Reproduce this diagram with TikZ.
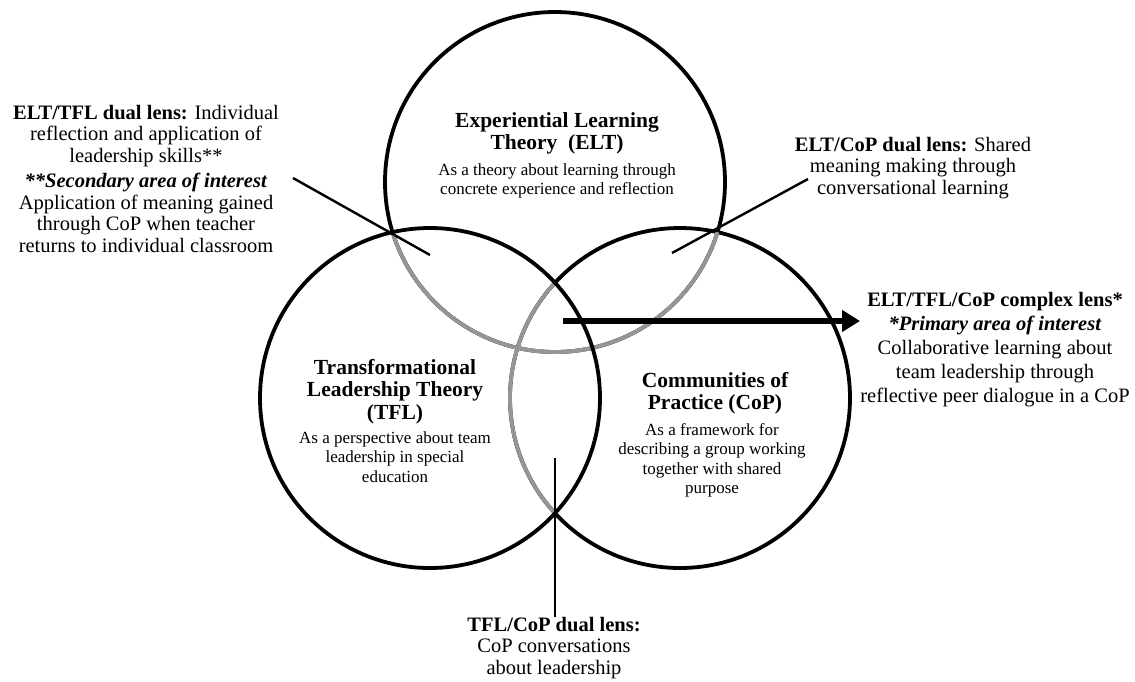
\documentclass[tikz,border=0pt]{standalone}
\usepackage{fontspec}
\setmainfont{Liberation Serif}
\usetikzlibrary{arrows.meta}
\definecolor{arcgray}{RGB}{150,150,150}
\begin{document}
\begin{tikzpicture}[x=1pt,y=-1pt,
  ring/.style={line width=3.8pt, draw=black},
  innerarc/.style={line width=3.8pt, draw=arcgray},
  pointer/.style={line width=2.4pt, draw=black},
  lenstext/.style={font=\fontsize{20.5}{21.5}\selectfont, align=center, inner sep=0pt, anchor=north},
  circhead/.style={font=\fontsize{21.5}{22.5}\selectfont\bfseries, align=center, inner sep=0pt, anchor=north},
  circdesc/.style={font=\fontsize{17}{19.5}\selectfont, align=center, inner sep=0pt, anchor=north},
]
\useasboundingbox (0,0) rectangle (1135,681);

% circle centres
\coordinate (cELT) at (555,182);
\coordinate (cTFL) at (430,398);
\coordinate (cCoP) at (680,398);

% outlines
\draw[ring] (cELT) circle[radius=170pt];
\draw[ring] (cCoP) circle[radius=170pt];

% arcs lying inside another circle are drawn grey
\begin{scope}
  \clip (cTFL) circle[radius=170pt];
  \draw[innerarc] (cELT) circle[radius=170pt];
  \draw[innerarc] (cCoP) circle[radius=170pt];
\end{scope}
\begin{scope}
  \clip (cCoP) circle[radius=170pt];
  \draw[innerarc] (cELT) circle[radius=170pt];
\end{scope}

\draw[ring] (cTFL) circle[radius=170pt];

% circle titles and descriptions
\node[circhead] (eltHead) at (557,112) {Experiential Learning\\ Theory~~(ELT)};
\node[circdesc] (eltDesc) at (557,163) {As a theory about learning through\\ concrete experience and reflection};

\node[circhead] (tflHead) at (395,359) {Transformational\\ Leadership Theory\\ (TFL)};
\node[circdesc] (tflDesc) at (395,431) {As a perspective about team\\ leadership in special\\ education};

\node[circhead] (copHead) at (715,372) {Communities of\\ Practice (CoP)};
\node[circdesc] (copDesc) at (712,423) {As a framework for\\ describing a group working\\ together with shared\\ purpose};

% lens labels
\node[lenstext] (etLabel) at (146,105) {\textbf{ELT/TFL dual lens:} Individual\\ reflection and application of\\ leadership skills**\\[4pt]
  \textbf{\textit{**Secondary area of interest}}\\ Application of meaning gained\\ through CoP when teacher\\ returns to individual classroom};

\node[lenstext] (ecLabel) at (913,137) {\textbf{ELT/CoP dual lens:} Shared\\ meaning making through\\ conversational learning};

\node[lenstext, font=\fontsize{20.5}{24}\selectfont] (allLabel) at (995,292) {\textbf{ELT/TFL/CoP complex lens*}\\ \textbf{\textit{*Primary area of interest}}\\ Collaborative learning about\\ team leadership through\\ reflective peer dialogue in a CoP};

\node[lenstext] (tcLabel) at (554,617) {\textbf{TFL/CoP dual lens:}\\ CoP conversations\\ about leadership};

% pointers into the overlaps
\coordinate (etFrom) at (293,178);
\coordinate (etTo) at (430,255);
\draw[pointer] (etFrom) -- (etTo);

\coordinate (ecFrom) at (808,179);
\coordinate (ecTo) at (672,253);
\draw[pointer] (ecFrom) -- (ecTo);

\coordinate (tcFrom) at (555,458);
\draw[pointer] (tcFrom) -- (tcLabel.north -| tcFrom);

\coordinate (allFrom) at (563,321);
\coordinate (allTo) at (860,321);
\draw[line width=5.5pt, -{Triangle[length=18pt,width=21pt]}] (allFrom) -- (allTo);
\end{tikzpicture}
\end{document}
